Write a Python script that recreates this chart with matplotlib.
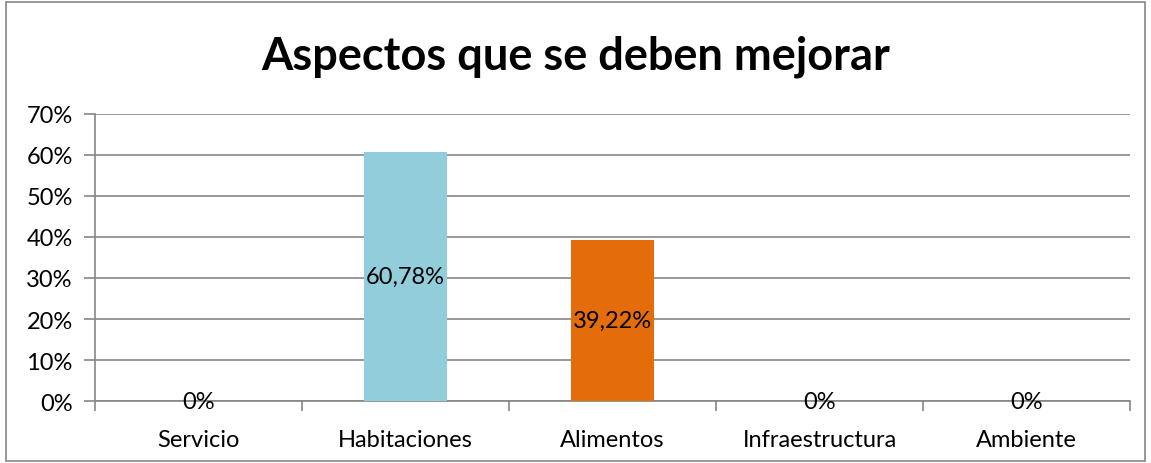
import matplotlib.pyplot as plt
import numpy as np
from matplotlib.patches import Rectangle

# data
categorias = ['Servicio', 'Habitaciones', 'Alimentos', 'Infraestructura', 'Ambiente']
valores = [0.0, 60.78, 39.22, 0.0, 0.0]
etiquetas = ['0%', '60,78%', '39,22%', '0%', '0%']
colores = ['#4F81BD', '#92CDDC', '#E46C0A', '#4F81BD', '#4F81BD']
yticks = [0, 10, 20, 30, 40, 50, 60, 70]

plt.rcParams['font.family'] = ['Lato', 'DejaVu Sans']

fig = plt.figure(figsize=(11.51, 4.64), dpi=100)
ax = fig.add_axes([0.0825, 0.1336, 0.8993, 0.6186])

x = np.arange(len(categorias))
bars = ax.bar(x, valores, width=0.4, color=colores, zorder=3)

for xi, v, t in zip(x, valores, etiquetas):
    ax.text(xi, v / 2, t, ha='center', va='center', fontsize=17, color='black', zorder=4)

ax.set_xlim(-0.5, len(categorias) - 0.5)
ax.set_ylim(0, 70)
ax.set_yticks(yticks)
ax.set_yticklabels(['%d%%' % t for t in yticks], fontsize=17)
ax.set_xticks(x)
ax.set_xticklabels(categorias, fontsize=17)
ax.tick_params(axis='x', length=0, pad=20)
ax.set_xticks(np.arange(-0.5, len(categorias)), minor=True)
ax.tick_params(axis='x', which='minor', length=7, color='#868686', width=1.2)
ax.tick_params(axis='y', length=8, color='#868686', width=1.2, pad=8)

ax.grid(axis='y', color='#868686', linewidth=1.2, zorder=0)
for s in ['top', 'right']:
    ax.spines[s].set_visible(False)
ax.spines['left'].set_color('#868686')
ax.spines['bottom'].set_color('#868686')
ax.spines['left'].set_linewidth(1.2)
ax.spines['bottom'].set_linewidth(1.2)

fig.text(0.5, 0.878, 'Aspectos que se deben mejorar', ha='center', va='center',
         fontsize=32.5, fontweight='bold')

# outer chart border
fig.patches.append(Rectangle((0.005, 0.004), 0.99, 0.99, transform=fig.transFigure,
                             fill=False, edgecolor='#868686', linewidth=1.2))

plt.savefig('out.png', dpi=100)
